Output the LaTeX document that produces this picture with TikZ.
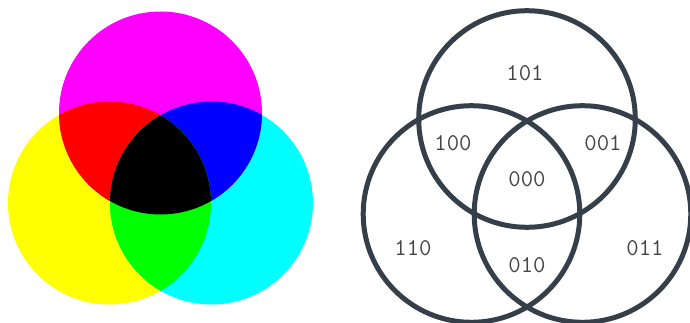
\documentclass[tikz,border=0pt]{standalone}
\usepackage{tikz}
\definecolor{ringgray}{RGB}{52,63,74}
\definecolor{numgray}{RGB}{68,68,68}
\definecolor{pmag}{RGB}{255,0,255}
\definecolor{pyel}{RGB}{255,255,0}
\definecolor{pcya}{RGB}{0,255,255}
\definecolor{pred}{RGB}{255,0,0}
\definecolor{pgrn}{RGB}{0,255,0}
\definecolor{pblu}{RGB}{0,0,255}

\begin{document}
\begin{tikzpicture}[x=1pt, y=-1pt,
    ring/.style={draw=ringgray, line width=5pt},
    every node/.style={font=\ttfamily\fontsize{24}{28}\selectfont, text=numgray, inner sep=0pt}]
  \useasboundingbox (0,0) rectangle (690,323);

  % colour mixing circles
  \coordinate (M) at (160.5,113);
  \coordinate (Y) at (109.5,203);
  \coordinate (C) at (211.5,203);
  \fill[pyel] (Y) circle (101.5pt);
  \fill[pcya] (C) circle (101.5pt);
  \fill[pmag] (M) circle (101.5pt);
  \begin{scope}
    \clip (M) circle (101.5pt);
    \fill[pred] (Y) circle (101.5pt);
    \fill[pblu] (C) circle (101.5pt);
  \end{scope}
  \begin{scope}
    \clip (Y) circle (101.5pt);
    \fill[pgrn] (C) circle (101.5pt);
    \clip (C) circle (101.5pt);
    \fill[black] (M) circle (101.5pt);
  \end{scope}

  % binary venn
  \coordinate (T) at (527,119);
  \coordinate (L) at (471.5,214);
  \coordinate (R) at (582.5,214);
  \draw[ring] (T) circle (108.3pt);
  \draw[ring] (L) circle (108.3pt);
  \draw[ring] (R) circle (108.3pt);

  \node (b101) at (525,73) {101};
  \node (b100) at (453,143) {100};
  \node (b001) at (603,143) {001};
  \node (b000) at (527,179) {000};
  \node (b110) at (413,248) {110};
  \node (b010) at (527,265) {010};
  \node (b011) at (645,248) {011};
\end{tikzpicture}
\end{document}
